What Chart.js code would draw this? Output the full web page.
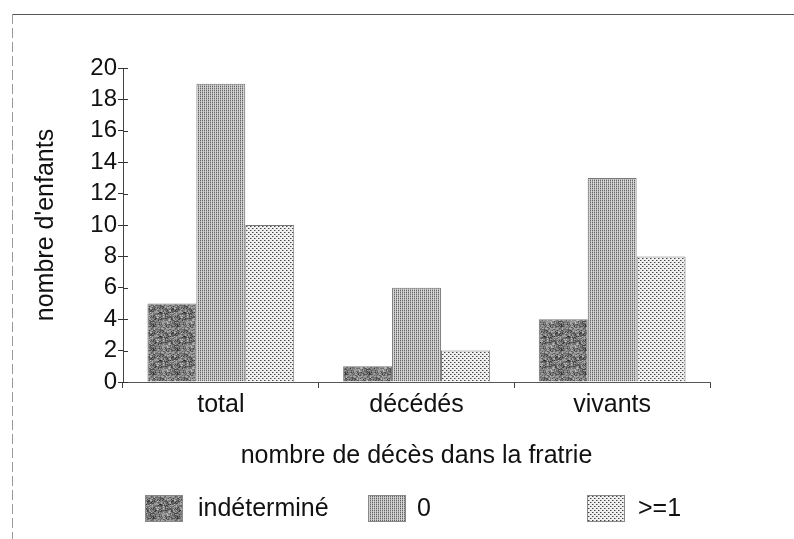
<!DOCTYPE html>
<html lang="fr">
<head>
<meta charset="utf-8">
<title>nombre d'enfants</title>
<script src="https://cdn.jsdelivr.net/npm/chart.js"></script>
<style>
    html, body { margin: 0; padding: 0; background: #ffffff; }
    #wrap { position: relative; width: 794px; height: 539px; }
</style>
</head>
<body>
<div id="wrap"><canvas id="chart" width="794" height="539"></canvas></div>
<script>
// data
const categories = ['total', 'décédés', 'vivants'];
const seriesLabels = ['indéterminé', '0', '>=1'];
const indetermine = [5, 1, 4];
const zeroDeces = [19, 6, 13];
const unOuPlus = [10, 2, 8];
const yTickValues = [0, 2, 4, 6, 8, 10, 12, 14, 16, 18, 20];

const FONT = "'Liberation Sans', Arial, sans-serif";

// deterministic hash for the mottled texture (not data)
function hash(x, y) {
    let h = Math.imul(x, 374761393) + Math.imul(y, 668265263);
    h = Math.imul(h ^ (h >>> 13), 1274126177);
    h = h ^ (h >>> 16);
    return (h >>> 0) / 4294967295;
}

function makePattern(size, pixelFn) {
    const c = document.createElement('canvas');
    c.width = size;
    c.height = size;
    const g = c.getContext('2d');
    const img = g.createImageData(size, size);
    for (let y = 0; y < size; y++) {
        for (let x = 0; x < size; x++) {
            const v = pixelFn(x, y);
            const i = (y * size + x) * 4;
            img.data[i] = v;
            img.data[i + 1] = v;
            img.data[i + 2] = v;
            img.data[i + 3] = 255;
        }
    }
    g.putImageData(img, 0, 0);
    return g.createPattern(c, 'repeat');
}

// dark mottled grey
const patIndet = makePattern(24, (x, y) => {
    const a = hash(x, y);
    const b = hash(Math.floor(x / 3), Math.floor(y / 3) + 99);
    return Math.round(30 + a * 100 + b * 70);
});
// fine dense dots
const patZero = makePattern(2, (x, y) => {
    if (x === 0 && y === 0) return 100;
    if (x === 0) return 170;
    return x === 1 && y === 0 ? 210 : 215;
});
// coarser sparse dots
const patUn = makePattern(4, (x, y) => {
    if ((x === 0 && y === 0) || (x === 2 && y === 2)) return 70;
    if ((x === 1 && y === 0) || (x === 3 && y === 2)) return 160;
    return 240;
});

const patterns = [patIndet, patZero, patUn];

// legend slots
const legendSlots = [
    { box: 145, text: 198 },
    { box: 368, text: 417 },
    { box: 587, text: 638 }
];

const framePlugin = {
    id: 'frame',
    beforeDraw(chart) {
        const ctx = chart.ctx;
        ctx.save();
        ctx.strokeStyle = '#555';
        ctx.lineWidth = 1;
        ctx.beginPath();
        ctx.moveTo(12, 14.5);
        ctx.lineTo(794, 14.5);
        ctx.stroke();
        ctx.strokeStyle = '#999';
        ctx.setLineDash([10, 4]);
        ctx.beginPath();
        ctx.moveTo(12.5, 14);
        ctx.lineTo(12.5, 539);
        ctx.stroke();
        ctx.restore();
    },
    afterDraw(chart) {
        const ctx = chart.ctx;
        const y = chart.scales.y;
        const x = chart.scales.x;
        ctx.save();
        // inner half of the y ticks (they cross the axis)
        ctx.strokeStyle = '#333';
        ctx.lineWidth = 1;
        y.ticks.forEach(t => {
            const py = Math.round(y.getPixelForValue(t.value)) + 0.5;
            ctx.beginPath();
            ctx.moveTo(x.left, py);
            ctx.lineTo(x.left + 5, py);
            ctx.stroke();
        });
        // legend
        ctx.font = '25px ' + FONT;
        ctx.textBaseline = 'middle';
        ctx.fillStyle = '#111';
        chart.data.datasets.forEach((ds, i) => {
            const slot = legendSlots[i];
            ctx.fillStyle = ds.backgroundColor;
            ctx.fillRect(slot.box, 495, 38, 27);
            ctx.strokeStyle = '#888';
            ctx.strokeRect(slot.box + 0.5, 495.5, 37, 26);
            ctx.fillStyle = '#111';
            ctx.fillText(ds.label, slot.text, 509);
        });
        ctx.restore();
    }
};

const ctx = document.getElementById('chart');

const chart = new Chart(ctx, {
    type: 'bar',
    data: {
        labels: categories,
        datasets: [
            { label: seriesLabels[0], data: indetermine, backgroundColor: patterns[0] },
            { label: seriesLabels[1], data: zeroDeces, backgroundColor: patterns[1] },
            { label: seriesLabels[2], data: unOuPlus, backgroundColor: patterns[2] }
        ]
    },
    options: {
        responsive: false,
        animation: false,
        devicePixelRatio: 1,
        layout: {
            padding: { top: 68, right: 84, left: 0, bottom: 68 }
        },
        datasets: {
            bar: {
                categoryPercentage: 0.75,
                barPercentage: 1,
                borderWidth: 1,
                borderColor: '#777'
            }
        },
        plugins: {
            legend: { display: false },
            tooltip: { enabled: false }
        },
        scales: {
            x: {
                afterFit: scale => { scale.height = 89; },
                grid: {
                    display: true,
                    offset: true,
                    drawOnChartArea: false,
                    tickLength: 6,
                    color: '#444'
                },
                border: { color: '#555', width: 1 },
                ticks: {
                    color: '#111',
                    padding: 2,
                    font: { family: FONT, size: 25 }
                },
                title: {
                    display: true,
                    text: 'nombre de décès dans la fratrie',
                    color: '#111',
                    padding: { top: 0, bottom: 0 },
                    font: { family: FONT, size: 25 }
                }
            },
            y: {
                min: 0,
                max: 20,
                afterFit: scale => { scale.width = 123; },
                afterBuildTicks: scale => {
                    scale.ticks = yTickValues.map(v => ({ value: v }));
                },
                grid: {
                    drawOnChartArea: false,
                    tickLength: 5,
                    color: '#333'
                },
                border: { color: '#444', width: 1, dash: [6, 2] },
                ticks: {
                    color: '#111',
                    padding: 1,
                    autoSkip: false,
                    font: { family: FONT, size: 24 }
                },
                title: {
                    display: true,
                    text: "nombre d'enfants",
                    color: '#111',
                    padding: { top: 31, bottom: 0 },
                    font: { family: FONT, size: 25 }
                }
            }
        }
    },
    plugins: [framePlugin]
});
</script>
</body>
</html>
